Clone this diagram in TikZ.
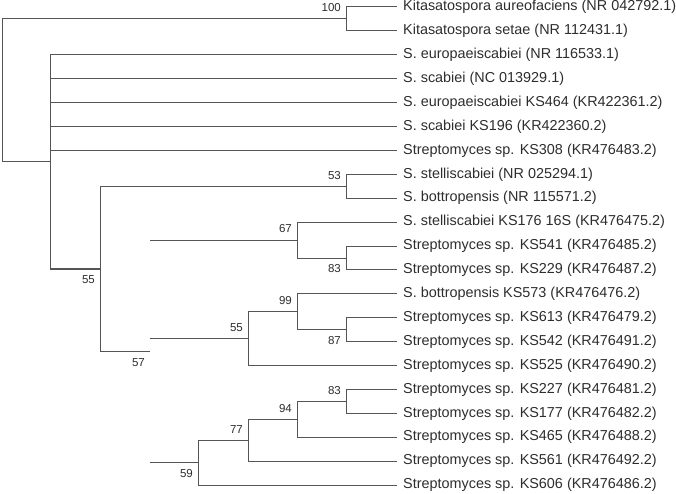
\documentclass[tikz,border=0pt]{standalone}
\usepackage{fontspec}
\setmainfont{Liberation Sans}
\definecolor{branchgray}{RGB}{85,85,85}
\definecolor{textgray}{RGB}{45,45,45}
\tikzset{
  leaf/.style={anchor=west, inner xsep=6pt, inner ysep=0pt, text=textgray,
    font=\fontsize{14.4}{16}\selectfont},
  bsup/.style={anchor=east, inner sep=0pt, xshift=-5pt, yshift=11pt, text=textgray,
    font=\fontsize{11.5}{12}\selectfont},
  bsdown/.style={anchor=east, inner sep=0pt, xshift=-5pt, yshift=-11pt, text=textgray,
    font=\fontsize{11.5}{12}\selectfont},
  branch/.style={draw=branchgray, line width=1pt}
}
\begin{document}
\begin{tikzpicture}[x=1pt, y=-1pt]
      \useasboundingbox (0,0) rectangle (676,494);
      % TAXA
      \node[leaf] (l1) at (397,7.0) {Kitasatospora aureofaciens (NR 042792.1)};
      \node[leaf] (l2) at (397,30.9) {Kitasatospora setae (NR 112431.1)};
      \node[leaf] (l3) at (397,54.8) {S. europaeiscabiei (NR 116533.1)};
      \node[leaf] (l4) at (397,78.7) {S. scabiei (NC 013929.1)};
      \node[leaf] (l5) at (397,102.6) {S. europaeiscabiei KS464 (KR422361.2)};
      \node[leaf] (l6) at (397,126.5) {S. scabiei KS196 (KR422360.2)};
      \node[leaf] (l7) at (397,150.4) {Streptomyces sp. KS308 (KR476483.2)};
      \node[leaf] (l8) at (397,174.3) {S. stelliscabiei (NR 025294.1)};
      \node[leaf] (l9) at (397,198.2) {S. bottropensis (NR 115571.2)};
      \node[leaf] (l10) at (397,222.1) {S. stelliscabiei KS176 16S (KR476475.2)};
      \node[leaf] (l11) at (397,246.0) {Streptomyces sp. KS541 (KR476485.2)};
      \node[leaf] (l12) at (397,269.9) {Streptomyces sp. KS229 (KR476487.2)};
      \node[leaf] (l13) at (397,293.8) {S. bottropensis KS573 (KR476476.2)};
      \node[leaf] (l14) at (397,317.7) {Streptomyces sp. KS613 (KR476479.2)};
      \node[leaf] (l15) at (397,341.6) {Streptomyces sp. KS542 (KR476491.2)};
      \node[leaf] (l16) at (397,365.5) {Streptomyces sp. KS525 (KR476490.2)};
      \node[leaf] (l17) at (397,389.4) {Streptomyces sp. KS227 (KR476481.2)};
      \node[leaf] (l18) at (397,413.3) {Streptomyces sp. KS177 (KR476482.2)};
      \node[leaf] (l19) at (397,437.2) {Streptomyces sp. KS465 (KR476488.2)};
      \node[leaf] (l20) at (397,461.1) {Streptomyces sp. KS561 (KR476492.2)};
      \node[leaf] (l21) at (397,485.0) {Streptomyces sp. KS606 (KR476486.2)};
      % INNER NODES
      \coordinate (root) at (2,90.4);
      \coordinate (nK) at (346,18.95);
      \coordinate (nA) at (50,161.8);
      \coordinate (nB) at (100,268.8);
      \coordinate (n53) at (346,186.25);
      \coordinate (nC) at (150,351.3);
      \coordinate (n67) at (297,240.0);
      \coordinate (n83a) at (346,258.0);
      \coordinate (n55) at (248,338.6);
      \coordinate (n99) at (297,311.7);
      \coordinate (n87) at (346,329.7);
      \coordinate (n59) at (198,462.6);
      \coordinate (n77) at (248,440.2);
      \coordinate (n94) at (297,419.3);
      \coordinate (n83b) at (346,401.35);
      % BRANCHES
      \draw[branch] (root) |- (nK);
      \draw[branch] (root) |- (nA);
      \draw[branch] (nK) |- (l1.west);
      \draw[branch] (nK) |- (l2.west);
      \draw[branch] (nA) |- (l3.west);
      \draw[branch] (nA) |- (l4.west);
      \draw[branch] (nA) |- (l5.west);
      \draw[branch] (nA) |- (l6.west);
      \draw[branch] (nA) |- (l7.west);
      \draw[branch, line width=1.6pt] (nA |- nB) -- (nB);
      \draw[branch] (nA) -- (nA |- nB);
      \draw[branch] (nB) |- (n53);
      \draw[branch] (nB) |- (nC);
      \draw[branch] (n53) |- (l8.west);
      \draw[branch] (n53) |- (l9.west);
      % no vertical line at nC
      \draw[branch] (nC |- n67) -- (n67);
      \draw[branch] (nC |- n55) -- (n55);
      \draw[branch] (nC |- n59) -- (n59);
      \draw[branch] (n67) |- (l10.west);
      \draw[branch] (n67) |- (n83a);
      \draw[branch] (n83a) |- (l11.west);
      \draw[branch] (n83a) |- (l12.west);
      \draw[branch] (n55) |- (n99);
      \draw[branch] (n55) |- (l16.west);
      \draw[branch] (n99) |- (l13.west);
      \draw[branch] (n99) |- (n87);
      \draw[branch] (n87) |- (l14.west);
      \draw[branch] (n87) |- (l15.west);
      \draw[branch] (n59) |- (n77);
      \draw[branch] (n59) |- (l21.west);
      \draw[branch] (n77) |- (n94);
      \draw[branch] (n77) |- (l20.west);
      \draw[branch] (n94) |- (n83b);
      \draw[branch] (n94) |- (l19.west);
      \draw[branch] (n83b) |- (l17.west);
      \draw[branch] (n83b) |- (l18.west);
      % BOOTSTRAP VALUES
      \node[bsup] (bK) at (nK) {100};
      \node[bsup] (b53) at (n53) {53};
      \node[bsdown] (bB) at (nB) {55};
      \node[bsdown] (bC) at (nC) {57};
      \node[bsup] (b67) at (n67) {67};
      \node[bsdown] (b83a) at (n83a) {83};
      \node[bsup] (b55) at (n55) {55};
      \node[bsup] (b99) at (n99) {99};
      \node[bsdown] (b87) at (n87) {87};
      \node[bsdown] (b59) at (n59) {59};
      \node[bsup] (b77) at (n77) {77};
      \node[bsup] (b94) at (n94) {94};
      \node[bsup] (b83b) at (n83b) {83};
    \end{tikzpicture}
\end{document}
